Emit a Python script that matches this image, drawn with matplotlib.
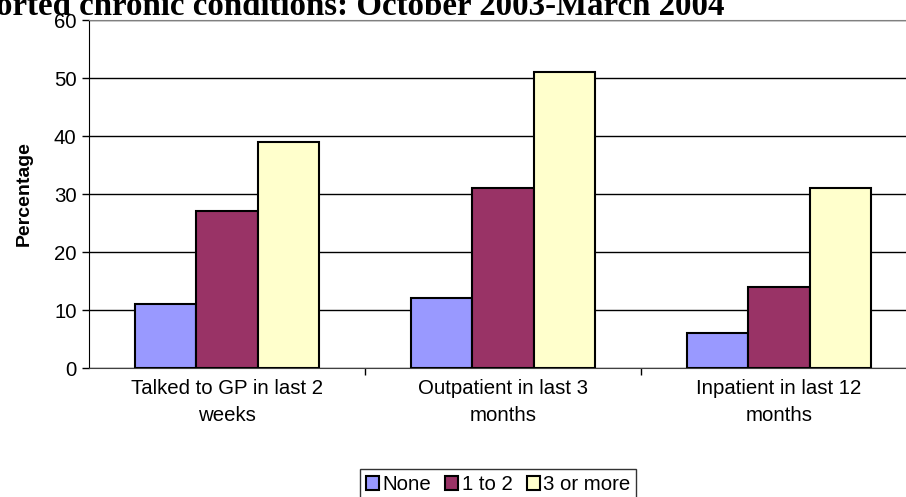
import numpy as np
import matplotlib.pyplot as plt

plt.rcParams['font.family'] = ['Liberation Sans', 'DejaVu Sans']

categories = ["Talked to GP in last 2\nweeks", "Outpatient in last 3\nmonths", "Inpatient in last 12\nmonths"]
series_names = ["None", "1 to 2", "3 or more"]
none_vals = [11, 12, 6]
one_two_vals = [27, 31, 14]
three_plus_vals = [39, 51, 31]
colors = ["#9999FF", "#993366", "#FFFFCC"]

fig = plt.figure(figsize=(9.06, 4.97), dpi=100)
ax = fig.add_axes([89/906, 1-368/497, 828/906, 348/497])

x = np.arange(len(categories))
w = 0.223
for i, (vals, name) in enumerate(zip([none_vals, one_two_vals, three_plus_vals], series_names)):
    ax.bar(x + (i-1)*w, vals, w, color=colors[i], edgecolor='black', linewidth=1.5,
           label=name, zorder=3)

ax.set_xlim(-0.5, 2.5)
ax.set_ylim(0, 60)
ax.set_yticks(range(0, 61, 10))
ax.yaxis.grid(True, color='black', linewidth=1)
ax.set_axisbelow(True)
ax.tick_params(axis='y', labelsize=14.7, direction='out', length=5, width=1, pad=4)

ax.set_xticks([0.5, 1.5])
ax.set_xticklabels([])
ax.tick_params(axis='x', which='major', direction='out', length=5, width=1)
ax.set_xticks(x, minor=True)
ax.set_xticklabels(categories, minor=True, fontsize=14.7, linespacing=1.5)
ax.tick_params(axis='x', which='minor', length=0, pad=8)

for s in ['top', 'right']:
    ax.spines[s].set_color('#808080')
ax.spines['left'].set_color('black')
ax.spines['bottom'].set_color('#404040')

ax.set_ylabel("Percentage", fontsize=14, fontweight='bold', labelpad=15)

fig.text(-0.004, 1-15/497, "orted chronic conditions: October 2003-March 2004",
         family='Liberation Serif', fontweight='bold', fontsize=23.7, ha='left', va='baseline')

leg = fig.legend(loc='lower center', bbox_to_anchor=(498/906, -0.027), ncol=3, fontsize=14.7,
                 frameon=True, fancybox=False, edgecolor='black', handlelength=0.65,
                 handleheight=0.65, handletextpad=0.15, columnspacing=0.7, borderpad=0.3)
leg.get_frame().set_linewidth(1)

fig.savefig("out.png", dpi=100)
